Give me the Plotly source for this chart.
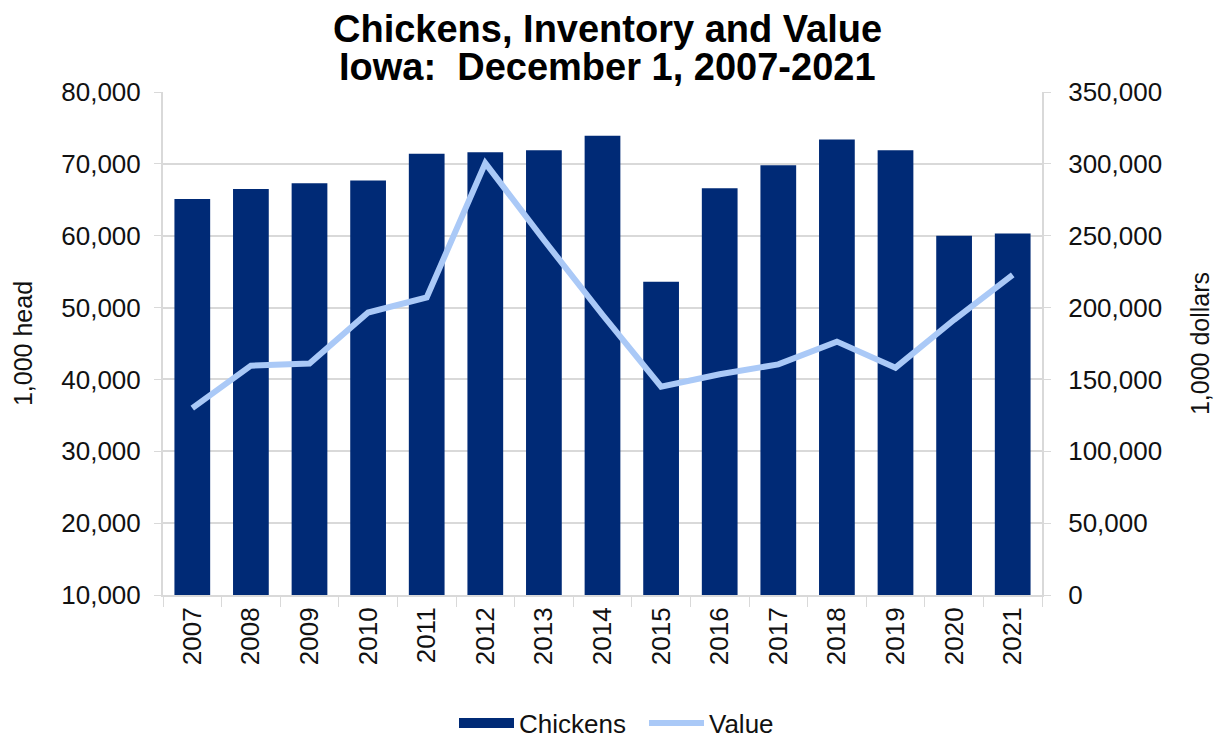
import plotly.graph_objects as go

# Iowa chickens on hand, December 1
years = ["2007", "2008", "2009", "2010", "2011", "2012", "2013", "2014",
         "2015", "2016", "2017", "2018", "2019", "2020", "2021"]
chickens_head = [65100, 66500, 67300, 67700, 71400, 71600, 71900, 73900,
                 53600, 66600, 69800, 73400, 71900, 60000, 60300]   # 1,000 head
value_dollars = [130000, 159600, 161000, 196500, 207000, 300500, 247000, 195000,
                 145000, 153600, 160500, 176300, 158200, 191500, 222700]  # 1,000 dollars

left_ticks = list(range(10000, 80001, 10000))
right_ticks = list(range(0, 350001, 50000))

title_lines = ["Chickens, Inventory and Value", "Iowa:  December 1, 2007-2021"]

BAR = "#002A76"
LINE = "#AAC9F7"
GRID = "#D9D9D9"
FONT = "Liberation Sans, Arial, sans-serif"

fig = go.Figure()
fig.add_trace(go.Bar(
    x=years, y=chickens_head, name="Chickens",
    marker=dict(color=BAR, line=dict(width=0)),
    yaxis="y", showlegend=False,
))
# legend key drawn as a wide block, like a filled swatch
fig.add_trace(go.Scatter(
    x=[None], y=[None], name="Chickens", mode="lines",
    line=dict(color=BAR, width=22), yaxis="y",
))
fig.add_trace(go.Scatter(
    x=years, y=value_dollars, name="Value", mode="lines",
    line=dict(color=LINE, width=6),
    yaxis="y2",
))

for i, line in enumerate(title_lines):
    fig.add_annotation(
        text=f"<b>{line}</b>", xref="paper", yref="paper",
        x=0.5 + 5 / 879, y=1 + (63 - 38 * i) / 503,
        xanchor="center", yanchor="middle", showarrow=False,
        font=dict(family=FONT, size=38, color="#000000"),
    )

fig.update_layout(
    width=1225, height=740,
    paper_bgcolor="white", plot_bgcolor="white",
    font=dict(family=FONT, size=26, color="#111111"),
    margin=dict(l=163, r=183, t=92, b=145),
    bargap=0.39,
    xaxis=dict(
        type="category", tickangle=-90,
        showline=True, linecolor=GRID, linewidth=2,
        ticks="outside", tickson="boundaries", ticklen=10, tickcolor=GRID,
        showgrid=False, tickfont=dict(size=26),
    ),
    yaxis=dict(
        range=[10000, 80000], tickvals=left_ticks, tickformat=",",
        showline=True, linecolor=GRID, linewidth=2,
        ticks="outside", ticklen=7, tickcolor=GRID,
        ticklabelstandoff=8,
        showgrid=True, gridcolor=GRID, gridwidth=1.5,
        zeroline=False,
        title=dict(text="1,000 head", font=dict(size=25), standoff=22),
        tickfont=dict(size=26),
    ),
    yaxis2=dict(
        range=[0, 350000], tickvals=right_ticks, tickformat=",",
        overlaying="y", side="right",
        showline=True, linecolor=GRID, linewidth=2,
        ticks="outside", ticklen=7, tickcolor=GRID,
        ticklabelstandoff=12,
        showgrid=False, zeroline=False,
        title=dict(text="1,000 dollars", font=dict(size=25), standoff=30),
        tickfont=dict(size=26),
    ),
    legend=dict(
        orientation="h", x=454 / 1225, xanchor="left", xref="container",
        y=17 / 740, yanchor="middle", yref="container",
        itemwidth=55, entrywidth=120, entrywidthmode="pixels",
        font=dict(size=26),
    ),
    showlegend=True,
)

fig.write_html("out.html")
